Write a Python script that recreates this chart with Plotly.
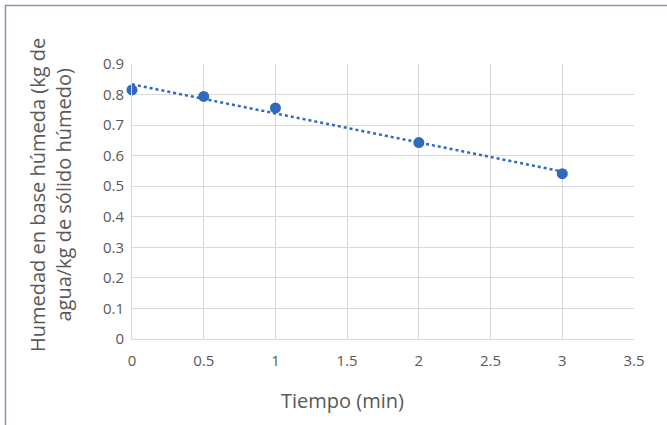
import numpy as np
import plotly.graph_objects as go

tiempo = [0, 0.5, 1, 2, 3]
humedad = [0.815, 0.794, 0.756, 0.643, 0.541]
x_ticks = [0, 0.5, 1, 1.5, 2, 2.5, 3, 3.5]
y_ticks = [0, 0.1, 0.2, 0.3, 0.4, 0.5, 0.6, 0.7, 0.8, 0.9]

slope, intercept = np.polyfit(tiempo, humedad, 1)
trend_x = [min(tiempo), max(tiempo)]
trend_y = [intercept + slope * v for v in trend_x]

W, H = 667, 425
L, R, T, B = 132, 33, 64, 86
pw, ph = W - L - R, H - T - B


def px(xp):
    return (xp - L) / pw


def py(yp):
    return 1 - (yp - T) / ph


color = "#2f69c1"
txt = "#595959"
grid = "#d9d9d9"
font_family = "Open Sans, Liberation Sans, sans-serif"

fig = go.Figure()
fig.add_trace(go.Scatter(x=trend_x, y=trend_y, mode="lines",
                         line=dict(color=color, width=2.5, dash="dot"),
                         showlegend=False, hoverinfo="skip"))
fig.add_trace(go.Scatter(x=tiempo, y=humedad, mode="markers",
                         marker=dict(color=color, size=11),
                         showlegend=False, cliponaxis=False))

fig.update_layout(
    width=W, height=H,
    margin=dict(l=L, r=R, t=T, b=B),
    paper_bgcolor="white", plot_bgcolor="white",
    font=dict(family=font_family, color=txt),
    xaxis=dict(range=[0, 3.5], tickvals=x_ticks, ticktext=[f"{v:g}" for v in x_ticks],
               showgrid=True, gridcolor=grid, gridwidth=1,
               showline=True, linecolor=grid, zeroline=False, automargin=False,
               tickfont=dict(size=15, color=txt), ticks="", ticklabelstandoff=8),
    yaxis=dict(range=[0, 0.9], tickvals=y_ticks, ticktext=[f"{v:g}" for v in y_ticks],
               showgrid=True, gridcolor=grid, gridwidth=1,
               showline=True, linecolor=grid, zeroline=False, automargin=False,
               tickfont=dict(size=15, color=txt), ticks="", ticklabelstandoff=4),
)

fig.add_annotation(text="Humedad en base húmeda (kg de<br>agua/kg de sólido húmedo)",
                   xref="paper", yref="paper", x=px(50), y=py(195),
                   xanchor="center", yanchor="middle", textangle=-90,
                   showarrow=False, font=dict(size=20, color=txt, family=font_family))
fig.add_annotation(text="Tiempo (min)",
                   xref="paper", yref="paper", x=px(342), y=py(400),
                   xanchor="center", yanchor="middle",
                   showarrow=False, font=dict(size=20, color=txt, family=font_family))

frame = "#8497b0"
fig.add_shape(type="line", xref="paper", yref="paper",
              x0=px(5), x1=px(W + 20), y0=py(5.5), y1=py(5.5),
              line=dict(color=frame, width=1.5), layer="above")
fig.add_shape(type="line", xref="paper", yref="paper",
              x0=px(5.5), x1=px(5.5), y0=py(5), y1=py(H + 20),
              line=dict(color=frame, width=1.5), layer="above")
fig.write_html("out.html", config={"displayModeBar": False},
               post_script="document.body.style.margin='0px';document.body.style.overflow='hidden';")
